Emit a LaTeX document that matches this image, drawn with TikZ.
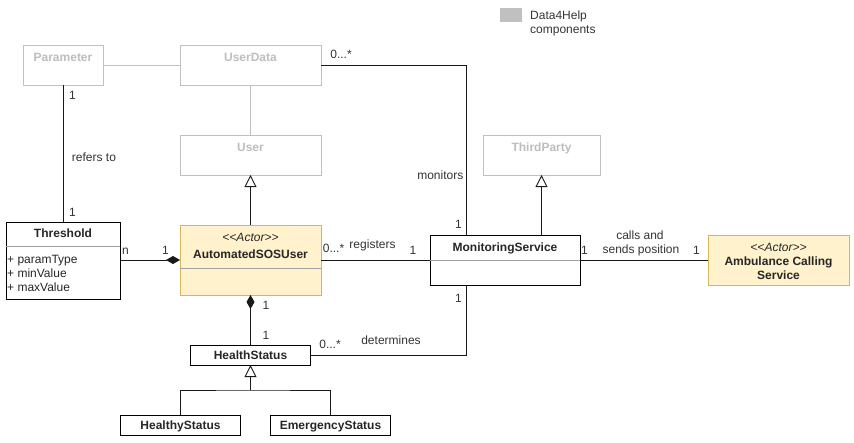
\documentclass[tikz,border=0pt]{standalone}
\usepackage{fontspec}
\setmainfont{Liberation Sans}
\usetikzlibrary{arrows.meta,calc}
\definecolor{gc}{HTML}{C0C0C0}
\definecolor{gtext}{HTML}{BDBDBD}
\definecolor{actfill}{HTML}{FFF2CC}
\definecolor{actstroke}{HTML}{D6B656}
\definecolor{lblc}{HTML}{333333}
\definecolor{sepc}{HTML}{A0A0A0}
\newcommand{\actorst}{<\kern0pt<Actor>\kern0pt>}
\tikzset{
  cls/.style={draw=black, line width=1pt, inner sep=0pt, outer sep=0pt, anchor=north west},
  graycls/.style={draw=gc, line width=0.8pt, inner sep=0pt, outer sep=0pt, anchor=north west},
  actorcls/.style={draw=actstroke, fill=actfill, line width=0.8pt, inner sep=0pt, outer sep=0pt, anchor=north west},
  txt/.style={inner sep=0pt, anchor=base, yshift=-4.3pt},
  ttl/.style={txt, font=\bfseries\fontsize{12}{14}\selectfont, text=black!85},
  gttl/.style={txt, font=\bfseries\fontsize{12}{14}\selectfont, text=gtext},
  stereo/.style={txt, font=\itshape\fontsize{12}{14}\selectfont, text=black!85},
  lbl/.style={txt, font=\fontsize{12}{14}\selectfont, text=lblc},
  conn/.style={draw=black!90, line width=0.9pt},
  gconn/.style={draw=gc, line width=0.9pt},
  sep/.style={draw=sepc, line width=0.8pt},
  gen/.style={-{Triangle[open, width=12pt, length=12pt, fill=white]}},
  comp/.style={-{Diamond[width=8pt, length=14pt]}}
}
\begin{document}
\begin{tikzpicture}[x=1pt,y=-1pt]
\useasboundingbox (0,0) rectangle (854,442);

% legend
\node[fill=gc, minimum width=22pt, minimum height=14pt, inner sep=0pt, anchor=north west] (leg) at (500,8) {};
\node[lbl, anchor=base west] (legt1) at (530,15) {Data4Help};
\node[lbl, anchor=base west] (legt2) at (530,29) {components};

% gray classes
\node[graycls, minimum width=80pt, minimum height=40pt] (param) at (23,45) {};
\node[gttl] (paramt) at (63,57) {Parameter};
\node[graycls, minimum width=141pt, minimum height=40pt] (userdata) at (180,45) {};
\node[gttl] (userdatat) at (250.5,57) {UserData};
\node[graycls, minimum width=141pt, minimum height=40pt] (user) at (180,135) {};
\node[gttl] (usert) at (250.5,147) {User};
\node[graycls, minimum width=117pt, minimum height=40pt] (third) at (483,135) {};
\node[gttl] (thirdt) at (541.5,147) {ThirdParty};

% Threshold
\node[cls, minimum width=114pt, minimum height=77pt] (thr) at (6,222) {};
\node[ttl] (thrt) at (63,233) {Threshold};
\draw[sep] (6,246) -- (120,246);
\node[lbl, text=black!85, anchor=base west] (a1) at (7,259.5) {+ paramType};
\node[lbl, text=black!85, anchor=base west] (a2) at (7,273.5) {+ minValue};
\node[lbl, text=black!85, anchor=base west] (a3) at (7,287.5) {+ maxValue};

% AutomatedSOSUser
\node[actorcls, minimum width=141pt, minimum height=70pt] (auto) at (180,225) {};
\node[stereo] (autos) at (250.5,237) {\actorst};
\node[ttl] (autot) at (250.5,254) {AutomatedSOSUser};
\draw[sep] (180,268) -- (321,268);

% MonitoringService
\node[cls, minimum width=150pt, minimum height=50pt] (mon) at (430,235) {};
\node[ttl] (mont) at (505,247) {MonitoringService};
\draw[sep] (430,260.5) -- (580,260.5);

% Ambulance
\node[actorcls, minimum width=141pt, minimum height=50pt] (amb) at (708,235) {};
\node[stereo] (ambs) at (778.5,247) {\actorst};
\node[ttl] (ambt1) at (778.5,261) {Ambulance Calling};
\node[ttl] (ambt2) at (778.5,275) {Service};

% Health statuses
\node[cls, minimum width=120pt, minimum height=20pt] (health) at (190.5,345) {};
\node[ttl] (healtht) at (250.5,355) {HealthStatus};
\node[cls, minimum width=120pt, minimum height=20pt] (healthy) at (120.5,415) {};
\node[ttl] (healthyt) at (180.5,425) {HealthyStatus};
\node[cls, minimum width=120pt, minimum height=20pt] (emerg) at (270.5,415) {};
\node[ttl] (emergt) at (330.5,425) {EmergencyStatus};
\coordinate (branch) at (250.5,390);

% connectors
\draw[gconn] (param) -- (userdata);
\draw[gconn] (userdata) -- (user);
\draw[conn] (userdata.east) -| ($(mon.north west)+(36.7,0)$);
\draw[conn] (param.south) -- (thr.north);
\draw[conn, comp] (thr.east |- auto.west) -- (auto.west);
\draw[conn] (auto.east) -- (auto.east -| mon.west);
\draw[conn, gen] (mon.north -| third.south) -- (third.south);
\draw[conn, gen] (auto.north) -- (user.south);
\draw[conn, comp] (health.north) -- (auto.south);
\draw[conn] (health.east) -| ($(mon.south west)+(36.7,0)$);
\draw[conn] (mon.east |- amb.west) -- (amb.west);
\draw[conn] (healthy.north) |- (branch) -| (emerg.north);
\draw[conn, gen] (branch) -- (health.south);

% labels
\node[lbl] (l1) at (341,54) {0...*};
\node[lbl] (l2) at (72.5,95.5) {1};
\node[lbl] (l3) at (94,157) {refers to};
\node[lbl] (l4) at (72.5,212) {1};
\node[lbl, anchor=base east] (l5) at (463.5,175.5) {monitors};
\node[lbl] (l6) at (458.5,224.5) {1};
\node[lbl] (l7) at (125.5,250) {n};
\node[lbl] (l8) at (165.5,250) {1};
\node[lbl] (l9) at (333.5,248.5) {0...*};
\node[lbl] (l10) at (372.5,244.5) {registers};
\node[lbl] (l11) at (413,250) {1};
\node[lbl] (l12) at (266,305.5) {1};
\node[lbl] (l13) at (266,335) {1};
\node[lbl] (l14) at (330,344.5) {0...*};
\node[lbl] (l15) at (391,340.5) {determines};
\node[lbl] (l16) at (458.5,298.5) {1};
\node[lbl] (l17) at (584.5,250.5) {1};
\node[lbl] (l18) at (640,235) {calls and};
\node[lbl] (l19) at (641,249) {sends position};
\node[lbl] (l20) at (696.5,250.5) {1};
\end{tikzpicture}
\end{document}
